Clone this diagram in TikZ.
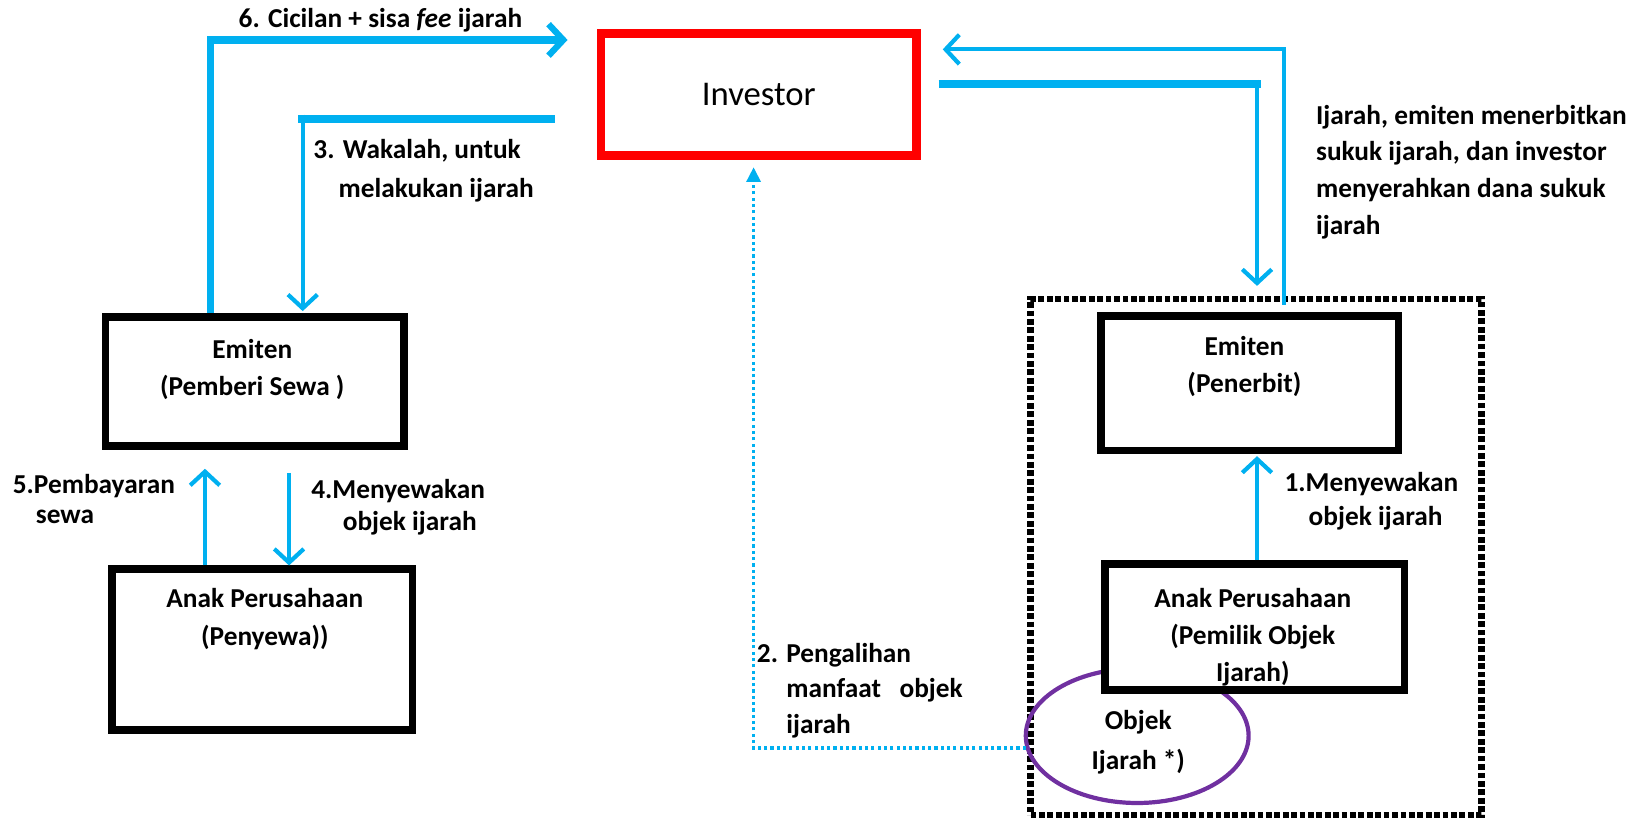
\documentclass[tikz,border=0pt]{standalone}
\usepackage{fontspec}
\setmainfont{Carlito}
\usetikzlibrary{arrows.meta,calc,shapes.geometric}
\definecolor{flowblue}{RGB}{0,176,240}
\definecolor{objpurple}{RGB}{112,48,160}
\definecolor{invred}{RGB}{255,0,0}

\begin{document}
\begin{tikzpicture}[x=1pt,y=-1pt,
  box/.style={draw=black,line width=7pt,fill=white,inner sep=0pt},
  boxtext/.style={font=\fontsize{26}{35}\selectfont\bfseries,align=center,anchor=base,inner sep=0pt},
  note/.style={font=\fontsize{26}{35}\selectfont\bfseries,align=left,anchor=base west,inner sep=0pt},
  barb/.style={-{Straight Barb[length=13pt,width=28pt]}},
  flow/.style={draw=flowblue,line width=4pt,barb},
  heavy/.style={draw=flowblue,line width=8pt},
  dotflow/.style={draw=flowblue,line width=3.5pt,dash pattern=on 3pt off 3pt,
    -{Triangle[length=14pt,width=13pt]}}]
\useasboundingbox (0,0) rectangle (1568,784);

% grouping frame around the issuer side
\node[draw=black,line width=6pt,dash pattern=on 5.5pt off 2.5pt,inner sep=0pt,
  minimum width=429pt,minimum height=491pt] (grp) at (1195,530) {};

% underlying asset
\node[draw=objpurple,line width=4pt,ellipse,inner sep=0pt,
  minimum width=212pt,minimum height=128pt] (obj) at (1082,700) {};

% parties
\node[draw=invred,line width=8pt,fill=white,inner sep=0pt,
  minimum width=300pt,minimum height=116pt] (inv) at (722,90) {};
\node[box,minimum width=284pt,minimum height=123pt] (emL) at (242.5,363) {};
\node[box,minimum width=286pt,minimum height=153pt] (apL) at (249.5,618) {};
\node[box,minimum width=283pt,minimum height=128pt] (emR) at (1189,364.5) {};
\node[box,minimum width=285pt,minimum height=120pt] (apR) at (1194,596.5) {};

% free ends of the connectors
\coordinate (sixEnd) at (540,38);
\coordinate (wakStart) at (528,113);
\coordinate (retEnd) at (897,47);
\coordinate (issStart) at (893,80);
\coordinate (objOut) at (976,712);

% 6. instalments back to the investor
\draw[draw=flowblue,line width=7pt] (200,0 |- emL.north) -- (200,38) -- ($(sixEnd)+(-4,0)$);
\draw[flow,line width=6pt,-{Straight Barb[length=14pt,width=30pt]}] (500,38) -- (sixEnd);

% 3. wakalah
\draw[heavy] (wakStart) -- (284,113);
\draw[flow] (288,109) -- (288,296);

% 4. and 5. between lessor and lessee
\draw[flow] (275,450) -- (275,0 |- apL.north);
\draw[flow] (195,0 |- apL.north) -- (195,446);

% right side: issuance and proceeds
\draw[flow] (1222,290) -- (1222,47) -- (retEnd);
\draw[heavy] (issStart) -- (1200,80);
\draw[flow] (1196,76) -- (1196,272);

% 1. lease to the issuer
\draw[flow] (1196,0 |- apR.north) -- (1196,434);

% 2. transfer of benefit
\draw[dotflow] (objOut) -- (717,712) -- (717,159);

% texts (multi-line nodes sit on the baseline of their last line)
\node[font=\fontsize{33}{38}\selectfont,inner sep=0pt] at (inv.center) {Investor};
\node[boxtext] at (240,376) {Emiten\\(Pemberi Sewa )};
\node[boxtext,font=\fontsize{26}{36}\selectfont\bfseries] at (252,614) {Anak Perusahaan\\(Penyewa))};
\node[boxtext] at (1184,373) {Emiten\\(Penerbit)};
\node[boxtext] at (1192,648) {Anak Perusahaan\\(Pemilik Objek\\Ijarah)};
\node[boxtext,font=\fontsize{26}{38}\selectfont\bfseries] at (1083,732) {Objek\\Ijarah *)};

\node[note,anchor=base] at (362,26) {6. Cicilan + sisa \textit{fee} ijarah};
\node[note,font=\fontsize{26}{37}\selectfont\bfseries] at (298,188) {3. Wakalah, untuk\\\hspace*{24pt}melakukan ijarah};
\node[note] at (1252,223) {Ijarah, emiten menerbitkan\\sukuk ijarah, dan investor\\menyerahkan dana sukuk\\ijarah};
\node[note,font=\fontsize{26}{28}\selectfont\bfseries] at (12,498) {5.Pembayaran\\\hspace*{22pt}sewa};
\node[note,font=\fontsize{26}{31}\selectfont\bfseries] at (296,505) {4.Menyewakan\\\hspace*{30pt}objek ijarah};
\node[note,font=\fontsize{26}{32}\selectfont\bfseries] at (1222,500) {1.Menyewakan\\\hspace*{23pt}objek ijarah};
\node[note,font=\fontsize{26}{34}\selectfont\bfseries] at (720,698) {2. Pengalihan\\\hspace*{28pt}manfaat\ \ \ objek\\\hspace*{28pt}ijarah};
\end{tikzpicture}
\end{document}
